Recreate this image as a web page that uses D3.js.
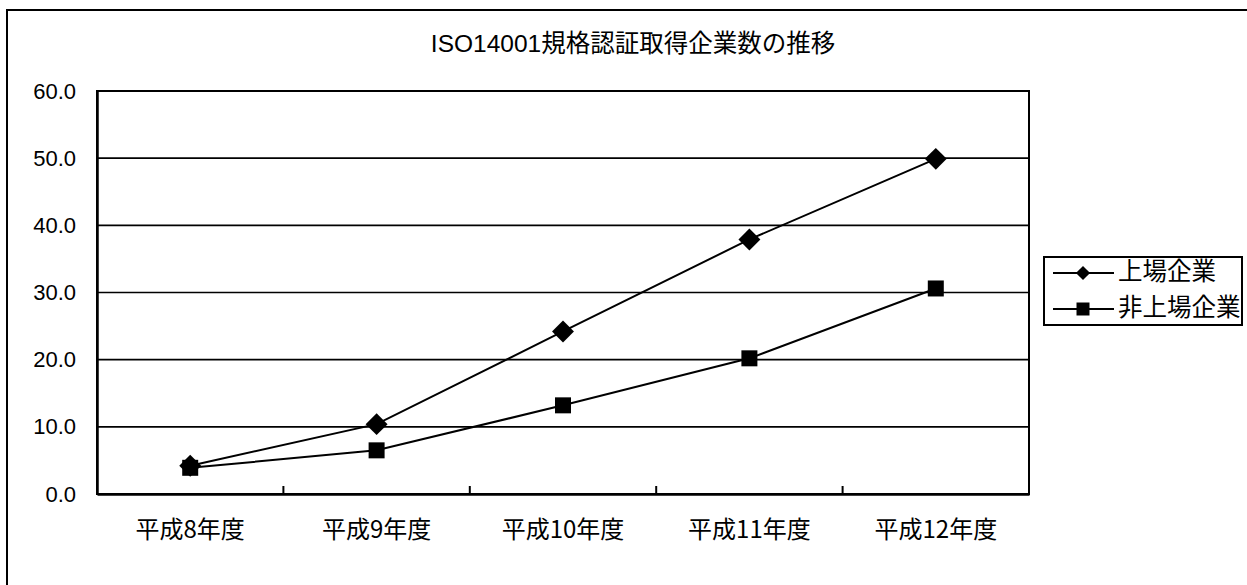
<!DOCTYPE html>
<html>
<head>
<meta charset="utf-8">
<script src="https://cdn.jsdelivr.net/npm/d3@7"></script>
<style>
  html, body { margin: 0; padding: 0; background: #fff; }
  svg { display: block; }
  text { font-family: "Liberation Sans", Arial, "Noto Sans CJK JP", sans-serif; fill: #000; }
</style>
</head>
<body>
<svg id="chart" width="1247" height="585"></svg>
<script>
// ISO14001 certification trend: listed vs. unlisted companies
const chartTitle = "ISO14001規格認証取得企業数の推移";
const years = ["平成8年度", "平成9年度", "平成10年度", "平成11年度", "平成12年度"];
const listed = [4.2, 10.4, 24.2, 37.9, 49.9];
const unlisted = [3.9, 6.5, 13.2, 20.2, 30.6];
const seriesNames = ["上場企業", "非上場企業"];
const yTicks = [0, 10, 20, 30, 40, 50, 60];

const svg = d3.select("#chart");
const W = 1247, H = 585;

// outer chart frame (runs off the right and bottom edges)
svg.append("rect")
  .attr("x", 7).attr("y", 10)
  .attr("width", W + 10).attr("height", H + 10)
  .attr("fill", "#fff").attr("stroke", "#000").attr("stroke-width", 2);

const plot = { left: 97, top: 91, right: 1029, bottom: 494 };

const x = d3.scaleBand().domain(years).range([plot.left, plot.right]).padding(0);
const y = d3.scaleLinear().domain([0, 60]).range([plot.bottom, plot.top]);

// title
svg.append("text")
  .attr("x", 633).attr("y", 46)
  .attr("text-anchor", "middle").attr("dominant-baseline", "middle")
  .attr("font-size", 24.5)
  .text(chartTitle);

// horizontal gridlines
svg.append("g")
  .selectAll("line")
  .data(yTicks.filter(d => d > 0))
  .join("line")
  .attr("x1", plot.left).attr("x2", plot.right)
  .attr("y1", d => y(d)).attr("y2", d => y(d))
  .attr("stroke", "#000").attr("stroke-width", 1.6);

// plot area border
svg.append("rect")
  .attr("x", plot.left).attr("y", plot.top)
  .attr("width", plot.right - plot.left).attr("height", plot.bottom - plot.top)
  .attr("fill", "none").attr("stroke", "#000").attr("stroke-width", 2);

// y axis
const yAxis = svg.append("g")
  .attr("transform", `translate(${plot.left},0)`)
  .call(d3.axisLeft(y).tickValues(yTicks).tickFormat(d3.format(".1f")).tickSize(0).tickPadding(21));
yAxis.select(".domain").attr("stroke", "#000").attr("stroke-width", 2.5);
yAxis.selectAll("text").attr("font-size", 22)
  .style("font-family", "'Liberation Sans', Arial, sans-serif");

// x axis: inward tick marks between categories
const xAxis = svg.append("g")
  .attr("transform", `translate(0,${plot.bottom})`)
  .call(d3.axisBottom(x).tickSize(0).tickPadding(27));
xAxis.select(".domain").attr("stroke", "#000").attr("stroke-width", 2.5);
xAxis.selectAll("text").attr("font-size", 24)
  .style("font-family", "'Noto Sans CJK JP', sans-serif");
svg.append("g")
  .selectAll("line")
  .data(years.slice(1))
  .join("line")
  .attr("x1", d => x(d)).attr("x2", d => x(d))
  .attr("y1", plot.bottom).attr("y2", plot.bottom - 8)
  .attr("stroke", "#000").attr("stroke-width", 2);

const cx = d => x(d) + x.bandwidth() / 2;
const line = d3.line().x((d, i) => cx(years[i])).y(d => y(d));

// unlisted companies
svg.append("path").datum(unlisted)
  .attr("d", line).attr("fill", "none").attr("stroke", "#000").attr("stroke-width", 2);
svg.append("g").selectAll("path").data(unlisted).join("path")
  .attr("transform", (d, i) => `translate(${cx(years[i])},${y(d)})`)
  .attr("d", d3.symbol().type(d3.symbolSquare).size(16 * 16))
  .attr("fill", "#000");

// listed companies
svg.append("path").datum(listed)
  .attr("d", line).attr("fill", "none").attr("stroke", "#000").attr("stroke-width", 2);
svg.append("g").selectAll("path").data(listed).join("path")
  .attr("transform", (d, i) => `translate(${cx(years[i])},${y(d)}) rotate(45)`)
  .attr("d", d3.symbol().type(d3.symbolSquare).size(15.5 * 15.5))
  .attr("fill", "#000");

// legend
const lg = svg.append("g");
lg.append("rect")
  .attr("x", 1044).attr("y", 257).attr("width", 198).attr("height", 68)
  .attr("fill", "#fff").attr("stroke", "#000").attr("stroke-width", 2);
const rows = [
  { name: seriesNames[0], yy: 273, kind: "diamond" },
  { name: seriesNames[1], yy: 309, kind: "square" }
];
rows.forEach(r => {
  lg.append("line")
    .attr("x1", 1053).attr("x2", 1114).attr("y1", r.yy).attr("y2", r.yy)
    .attr("stroke", "#000").attr("stroke-width", 2);
  if (r.kind === "diamond") {
    lg.append("path")
      .attr("transform", `translate(1083,${r.yy}) rotate(45)`)
      .attr("d", d3.symbol().type(d3.symbolSquare).size(10 * 10))
      .attr("fill", "#000");
  } else {
    lg.append("path")
      .attr("transform", `translate(1083,${r.yy})`)
      .attr("d", d3.symbol().type(d3.symbolSquare).size(13 * 13))
      .attr("fill", "#000");
  }
  lg.append("text")
    .attr("x", 1118).attr("y", r.yy)
    .attr("dominant-baseline", "middle")
    .attr("font-size", 24.5)
    .style("font-family", "'Noto Sans CJK JP', sans-serif")
    .text(r.name);
});
</script>
</body>
</html>
